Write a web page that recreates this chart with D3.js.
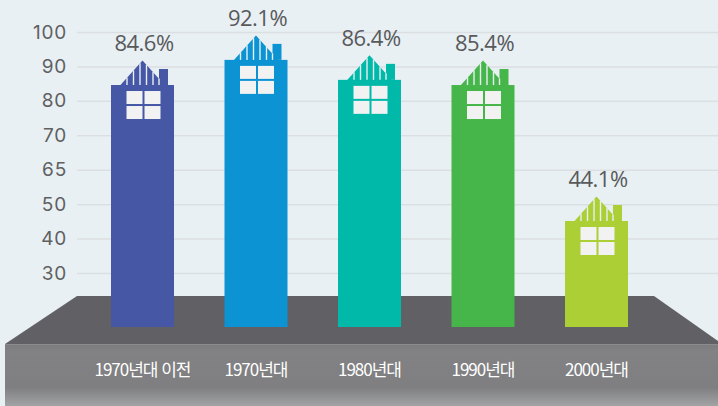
<!DOCTYPE html>
<html lang="ko">
<head>
    <meta charset="UTF-8">
    <title>House Bars</title>
    <script src="https://d3js.org/d3.v7.min.js"></script>
    <style>
        html, body { margin: 0; padding: 0; background: #e8f0f4; overflow: hidden; }
        svg { display: block; }
        .tick-label { font-family: Inter, "Noto Sans", sans-serif; font-size: 19px; fill: #5f6062; text-anchor: end; letter-spacing: 0.8px; }
        .value { font-family: "Open Sans", sans-serif; font-size: 22px; fill: #58595b; text-anchor: middle; letter-spacing: -0.5px; }
        .cat { font-family: "Noto Sans CJK KR", sans-serif; font-weight: 400; font-size: 17px; fill: #fff; text-anchor: middle; letter-spacing: -1px; }
    </style>
</head>
<body>
    <svg id="chart" width="718" height="406"></svg>

    <script>
    const categories = ['1970년대 이전', '1970년대', '1980년대', '1990년대', '2000년대'];
    const valueLabels = ['84.6%', '92.1%', '86.4%', '85.4%', '44.1%'];
    // bar tops as they sit against the gridlines in the picture
    const barLevels = [84.6, 91.9, 86.1, 84.6, 45.1];
    const colors = ['#4557a5', '#0b93d3', '#00b9a9', '#46b64a', '#abcf35'];
    const tickLevels = [100, 90, 80, 70, 60, 50, 40, 30];
    const tickLabels = ['100', '90', '80', '70', '65', '50', '40', '30'];

    const width = 718, height = 406;
    const baseY = 327;

    const svg = d3.select('#chart');

    const defs = svg.append('defs');
    const grad = defs.append('linearGradient')
        .attr('id', 'front')
        .attr('x1', 0).attr('x2', 0).attr('y1', 0).attr('y2', 1);
    grad.append('stop').attr('offset', '0%').attr('stop-color', '#7c7c7e');
    grad.append('stop').attr('offset', '12%').attr('stop-color', '#828284');
    grad.append('stop').attr('offset', '70%').attr('stop-color', '#7f7f81');
    grad.append('stop').attr('offset', '100%').attr('stop-color', '#a2a3a5');

    const x = d3.scaleBand()
        .domain(categories)
        .range([111, 628])
        .paddingInner(0.445);

    const y = d3.scaleLinear()
        .domain([100, 30])
        .range([32, 273]);

    // gridlines and tick labels
    const axis = d3.axisLeft(y)
        .tickValues(tickLevels)
        .tickFormat((d, i) => tickLabels[i])
        .tickSize(-(width - 77))
        .tickPadding(10);

    const axisG = svg.append('g')
        .attr('transform', 'translate(77,0)')
        .call(axis);
    axisG.select('.domain').remove();
    axisG.selectAll('.tick line')
        .attr('stroke', '#dcdfe1')
        .attr('stroke-width', 1.5);
    axisG.selectAll('.tick text')
        .attr('class', 'tick-label')
        .attr('fill', null);
    axisG.attr('font-family', null).attr('font-size', null);

    // floor
    svg.append('path')
        .attr('d', d3.line()([[77, 296], [654, 296], [718, 341], [718, 344], [5, 344]]))
        .attr('fill', '#616165');
    svg.append('rect')
        .attr('x', 5).attr('y', 344)
        .attr('width', width - 5).attr('height', height - 344)
        .attr('fill', 'url(#front)');
    svg.append('line')
        .attr('x1', 5).attr('x2', width)
        .attr('y1', 344.5).attr('y2', 344.5)
        .attr('stroke', '#8b8b8d');

    // houses
    const stripes = [16, 22.5, 29, 35.5, 42, 48];
    const panes = [[15.5, 6], [33.5, 6], [15.5, 21], [33.5, 21]];
    const roofLeft = 9, roofApex = 31.5, roofRight = 54, roofHeight = 24.5;
    const roofY = s => s < roofApex
        ? -(s - roofLeft) * roofHeight / (roofApex - roofLeft)
        : -(roofRight - s) * roofHeight / (roofRight - roofApex);

    const house = svg.selectAll('.house')
        .data(categories)
        .join('g')
        .attr('class', 'house')
        .attr('transform', (d, i) => `translate(${x(d)},${y(barLevels[i])})`);

    house.append('rect')
        .attr('width', x.bandwidth())
        .attr('height', (d, i) => baseY - y(barLevels[i]))
        .attr('fill', (d, i) => colors[i]);

    // chimney then roof
    house.append('rect')
        .attr('x', 48).attr('y', -16)
        .attr('width', 9).attr('height', 16)
        .attr('fill', (d, i) => colors[i]);
    house.append('path')
        .attr('d', d3.line()([[roofLeft, 0.5], [roofApex, -roofHeight], [roofRight, 0.5]]))
        .attr('fill', (d, i) => colors[i]);

    house.selectAll('.stripe')
        .data(stripes)
        .join('line')
        .attr('class', 'stripe')
        .attr('x1', d => d).attr('x2', d => d)
        .attr('y1', 0).attr('y2', d => roofY(d))
        .attr('stroke', '#e8f0f4')
        .attr('stroke-width', 1.4);

    house.selectAll('.pane')
        .data(panes)
        .join('rect')
        .attr('class', 'pane')
        .attr('x', d => d[0]).attr('y', d => d[1])
        .attr('width', 16).attr('height', 13)
        .attr('fill', '#f2f2f2');

    // value labels
    svg.selectAll('.value')
        .data(categories)
        .join('text')
        .attr('class', 'value')
        .attr('x', d => x(d) + x.bandwidth() / 2 + 1.5)
        .attr('y', (d, i) => y(barLevels[i]) - 34)
        .text((d, i) => valueLabels[i]);

    // category labels
    svg.selectAll('.cat')
        .data(categories)
        .join('text')
        .attr('class', 'cat')
        .attr('x', d => x(d) + x.bandwidth() / 2)
        .attr('y', 376)
        .text(d => d);
    </script>
</body>
</html>
